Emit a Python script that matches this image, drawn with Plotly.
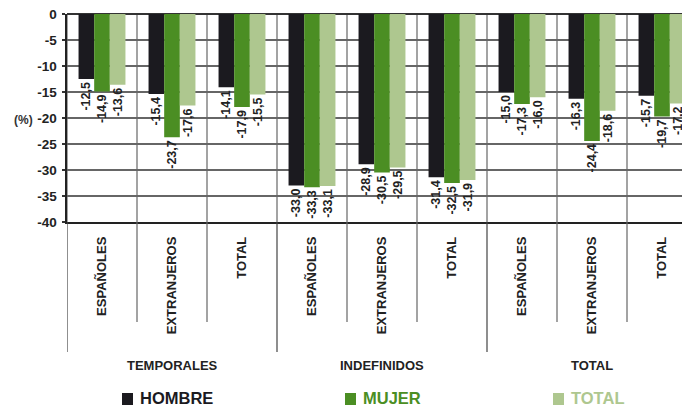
import plotly.graph_objects as go

categories = ["ESPAÑOLES", "EXTRANJEROS", "TOTAL",
              "ESPAÑOLES", "EXTRANJEROS", "TOTAL",
              "ESPAÑOLES", "EXTRANJEROS", "TOTAL"]
groups = ["TEMPORALES", "INDEFINIDOS", "TOTAL"]
hombre = [-12.5, -15.4, -14.1, -33.0, -28.9, -31.4, -15.0, -16.3, -15.7]
mujer = [-14.9, -23.7, -17.9, -33.3, -30.5, -32.5, -17.3, -24.4, -19.7]
total = [-13.6, -17.6, -15.5, -33.1, -29.5, -31.9, -16.0, -18.6, -17.2]
y_ticks = [0, -5, -10, -15, -20, -25, -30, -35, -40]

series = [("HOMBRE", hombre, "#1b1a1f"),
          ("MUJER", mujer, "#4b8e23"),
          ("TOTAL", total, "#aec78f")]

xs = list(range(len(categories)))
fig = go.Figure()
for name, vals, col in series:
    fig.add_trace(go.Bar(
        x=xs, y=vals, name=name, showlegend=False,
        marker=dict(color=col, line=dict(width=0)),
        text=[f"{v:.1f}".replace(".", ",") for v in vals],
        textposition="outside", textangle=-90, constraintext="none",
        textfont=dict(family="Liberation Sans", size=12.5, color="#222", weight="bold"),
        cliponaxis=False,
    ))

W, H = 682, 407
L, T, B = 67, 14, 185
plot_w = W - L
plot_h = H - T - B
cat_w = 70.0
x_end = -0.5 + plot_w / cat_w


def px_x(px):
    return (px - L) / plot_w


def px_y(py):
    return (H - B - py) / plot_h


shapes = []
for i in range(len(categories) + 1):
    xv = i - 0.5
    shapes.append(dict(type="line", xref="x", yref="paper", x0=xv, x1=xv, y0=0, y1=1,
                       line=dict(color="#666", width=1.2), layer="below"))
    long_div = (i % 3 == 0)
    shapes.append(dict(type="line", xref="x", yref="paper", x0=xv, x1=xv,
                       y0=0, y1=px_y(352 if long_div else 322),
                       line=dict(color="#444" if long_div else "#666", width=1.2)))

annotations = []
for gi, g in enumerate(groups):
    annotations.append(dict(x=gi * 3 + 1, xref="x", y=px_y(365), yref="paper",
                            yanchor="middle", xanchor="center",
                            text=f"<b>{g}</b>", showarrow=False,
                            font=dict(family="Liberation Sans", size=13, color="#222")))
annotations.append(dict(x=px_x(23), xref="paper", y=-20.4, yref="y",
                        xanchor="center", yanchor="middle",
                        text="<b>(%)</b>", showarrow=False,
                        font=dict(family="Liberation Sans", size=12, color="#333")))

# legend (squares + coloured labels)
legend_x = [122, 345, 553]
for (name, vals, col), lx in zip(series, legend_x):
    shapes.append(dict(type="rect", xref="paper", yref="paper",
                       x0=px_x(lx), x1=px_x(lx + 11), y0=px_y(405), y1=px_y(393),
                       fillcolor=col, line=dict(width=0)))
    annotations.append(dict(x=px_x(lx + 16), xref="paper", y=px_y(398), yref="paper",
                            xanchor="left", yanchor="middle", showarrow=False,
                            text=f"<b>{name}</b>",
                            font=dict(family="Liberation Sans", size=16.5, color=col)))

fig.update_layout(
    width=W, height=H,
    margin=dict(l=L, r=0, t=T, b=B, pad=0, autoexpand=False),
    paper_bgcolor="white", plot_bgcolor="white",
    barmode="group", bargap=0.33, bargroupgap=0,
    showlegend=False,
    xaxis=dict(range=[-0.5, x_end], tickmode="array", tickvals=xs,
               ticktext=[f"<b>{c}</b>" for c in categories],
               tickangle=-90, ticks="", showgrid=False, zeroline=False,
               showline=True, linecolor="#222", linewidth=1.5,
               ticklabelstandoff=8, automargin=False,
               tickfont=dict(family="Liberation Sans", size=13, color="#222")),
    yaxis=dict(range=[-40, 0], tickmode="array", tickvals=y_ticks,
               ticktext=[f"<b>{v}</b>" for v in y_ticks],
               showgrid=True, gridcolor="#666", gridwidth=1.2,
               zeroline=True, zerolinecolor="#333", zerolinewidth=2.5,
               showline=True, linecolor="#222", linewidth=2.5,
               ticks="outside", ticklen=3, tickcolor="#333", tickwidth=1.2,
               ticklabelstandoff=2, automargin=False,
               tickfont=dict(family="Liberation Sans", size=13.5, color="#222")),
    shapes=shapes,
    annotations=annotations,
)

fig.write_html("out.html", config={"displayModeBar": False, "staticPlot": True},
               post_script="document.body.style.margin='0';document.body.style.overflow='hidden';")
